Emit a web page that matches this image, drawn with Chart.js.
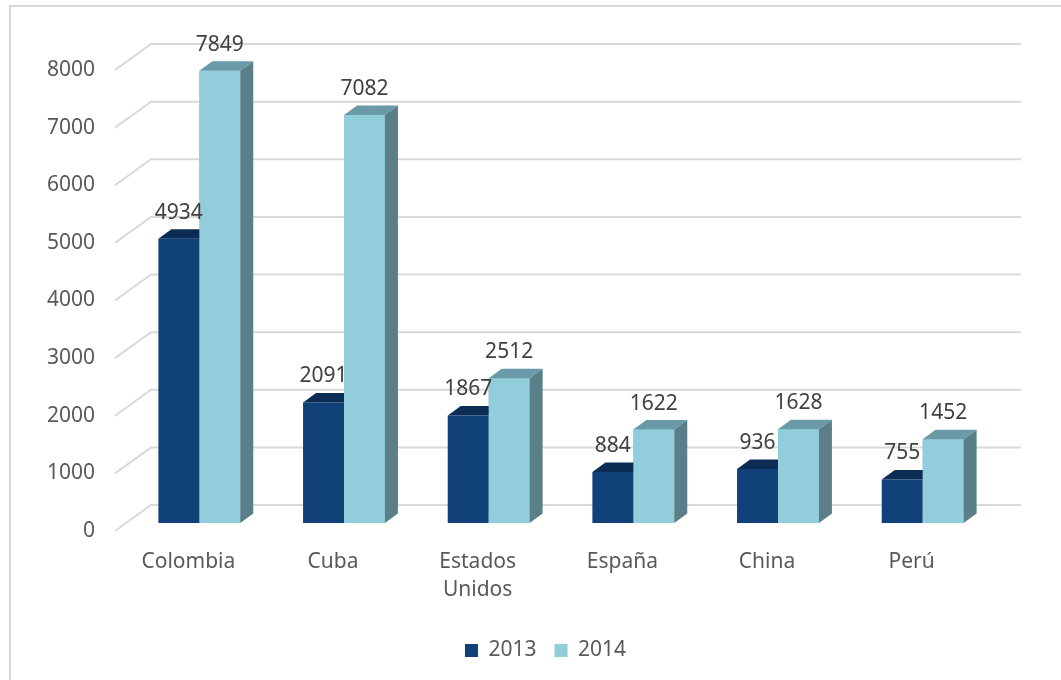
<!DOCTYPE html>
<html>
<head>
<meta charset="utf-8">
<script src="https://cdn.jsdelivr.net/npm/chart.js@4/dist/chart.umd.min.js"></script>
<style>
  body { margin: 0; background: #fff; }
  canvas { display: block; }
</style>
</head>
<body>
<canvas id="chart" width="1061" height="680"></canvas>
<script>
const countries = ['Colombia', 'Cuba', ['Estados', 'Unidos'], 'España', 'China', 'Perú'];
const years = ['2013', '2014'];
const values2013 = [4934, 2091, 1867, 884, 936, 755];
const values2014 = [7849, 7082, 2512, 1622, 1628, 1452];
const yTicks = [0, 1000, 2000, 3000, 4000, 5000, 6000, 7000, 8000];

const FONT = '"Noto Sans", "Liberation Sans", sans-serif';
const DX = 13, DY = -9.5;   // depth of the 3d boxes

// faces: [front, top, side]
const faces = [
    ['#0f4077', '#0a2c55', '#0a2c55'],
    ['#92cddc', '#6a9aa7', '#5b7f88']
];

function drawFaces(ctx, bar, col) {
    const p = bar.getProps(['x', 'y', 'base', 'width'], true);
    const x1 = p.x - p.width / 2, x2 = p.x + p.width / 2;
    ctx.fillStyle = col[1];
    ctx.beginPath();
    ctx.moveTo(x1, p.y);
    ctx.lineTo(x1 + DX, p.y + DY);
    ctx.lineTo(x2 + DX, p.y + DY);
    ctx.lineTo(x2, p.y);
    ctx.closePath();
    ctx.fill();
    ctx.fillStyle = col[2];
    ctx.beginPath();
    ctx.moveTo(x2, p.y);
    ctx.lineTo(x2 + DX, p.y + DY);
    ctx.lineTo(x2 + DX, p.base + DY);
    ctx.lineTo(x2, p.base);
    ctx.closePath();
    ctx.fill();
}

const box3d = {
    id: 'box3d',
    afterLayout(chart) {
        // legend sits centred under the plot, not the whole canvas
        chart.legend.left += 48;
        chart.legend.right += 48;
    },
    beforeDraw(chart) {
        const ctx = chart.ctx;
        ctx.save();
        ctx.strokeStyle = '#d9d9d9';
        ctx.lineWidth = 2;
        ctx.beginPath();
        ctx.moveTo(10, 680);
        ctx.lineTo(10, 6);
        ctx.lineTo(1061, 6);
        ctx.stroke();
        ctx.restore();
    },
    beforeDatasetsDraw(chart) {
        const ctx = chart.ctx;
        const y = chart.scales.y;
        ctx.save();
        ctx.strokeStyle = '#d9d9d9';
        ctx.lineWidth = 2;
        yTicks.forEach(v => {
            const py = y.getPixelForValue(v);
            ctx.beginPath();
            ctx.moveTo(115, py + 8);
            ctx.lineTo(151, py - 18);
            ctx.lineTo(1021, py - 18);
            ctx.stroke();
        });
        ctx.restore();
    },
    afterDatasetsDraw(chart) {
        const ctx = chart.ctx;
        const m0 = chart.getDatasetMeta(0).data;
        const m1 = chart.getDatasetMeta(1).data;
        ctx.save();
        m0.forEach((bar, j) => {
            drawFaces(ctx, bar, faces[0]);
            m1[j].draw(ctx);              // 2014 box sits in front of 2013's side
            drawFaces(ctx, m1[j], faces[1]);
        });
        ctx.font = '21px ' + FONT;
        ctx.fillStyle = '#404040';
        ctx.textAlign = 'center';
        ctx.textBaseline = 'middle';
        chart.data.datasets.forEach((ds, i) => {
            chart.getDatasetMeta(i).data.forEach((bar, j) => {
                ctx.fillText(String(ds.data[j]), bar.x, bar.y - 26);
            });
        });
        ctx.restore();
    }
};

new Chart(document.getElementById('chart'), {
    type: 'bar',
    data: {
        labels: countries,
        datasets: [
            { label: years[0], data: values2013, backgroundColor: faces[0][0] },
            { label: years[1], data: values2014, backgroundColor: faces[1][0] }
        ]
    },
    options: {
        responsive: false,
        animation: false,
        events: [],
        layout: { padding: { top: 62, right: 66, bottom: 9, left: 0 } },
        datasets: { bar: { categoryPercentage: 0.566, barPercentage: 1 } },
        scales: {
            x: {
                grid: { display: false, drawTicks: false },
                border: { display: false },
                ticks: {
                    color: '#595959',
                    font: { family: FONT, size: 21, lineHeight: 1.33 },
                    padding: 25,
                    labelOffset: -11,
                    maxRotation: 0
                },
                afterFit(scale) { scale.height = 99; }
            },
            y: {
                min: 0,
                max: 8000,
                grid: { display: false, drawTicks: false },
                border: { display: false },
                ticks: {
                    stepSize: 1000,
                    color: '#595959',
                    font: { family: FONT, size: 21 },
                    padding: 32,
                    labelOffset: 8,
                    callback: v => String(v)
                },
                afterFit(scale) { scale.width = 127; }
            }
        },
        plugins: {
            legend: {
                position: 'bottom',
                labels: {
                    boxWidth: 13,
                    boxHeight: 13,
                    padding: 18,
                    color: '#595959',
                    font: { family: FONT, size: 21 }
                }
            },
            tooltip: { enabled: false }
        }
    },
    plugins: [box3d]
});
</script>
</body>
</html>
